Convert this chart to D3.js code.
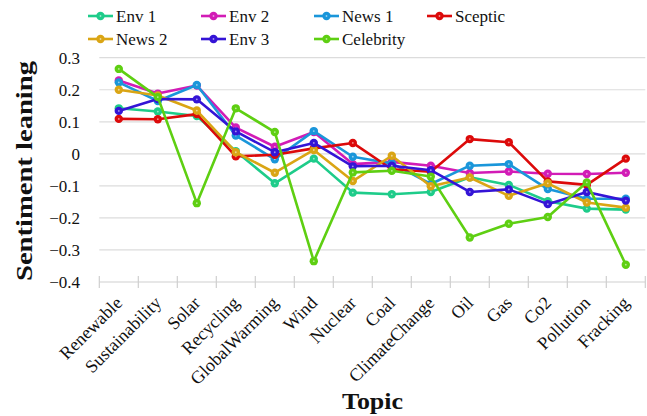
<!DOCTYPE html>
<html>
<head>
<meta charset="utf-8">
<script src="https://cdn.jsdelivr.net/npm/d3@7"></script>
<style>
  html, body { margin: 0; padding: 0; background: #fff; }
  svg { display: block; }
</style>
</head>
<body>
<svg id="chart" width="647" height="416"></svg>
<script>
// Topics along the x axis
const topics = ["Renewable", "Sustainability", "Solar", "Recycling", "GlobalWarming", "Wind",
  "Nuclear", "Coal", "ClimateChange", "Oil", "Gas", "Co2", "Pollution", "Fracking"];

// Mean sentiment leaning per topic, one array per account group
const env1      = [0.142, 0.132, 0.118, 0.008, -0.092, -0.015, -0.121, -0.126, -0.119, -0.073, -0.097, -0.148, -0.171, -0.174];
const env2      = [0.229, 0.188, 0.213, 0.082, 0.022, 0.068, -0.032, -0.025, -0.037, -0.060, -0.055, -0.062, -0.063, -0.059];
const news1     = [0.223, 0.165, 0.215, 0.057, -0.017, 0.071, -0.009, -0.030, -0.094, -0.037, -0.032, -0.110, -0.140, -0.140];
const sceptic   = [0.109, 0.108, 0.124, -0.008, -0.003, 0.017, 0.034, -0.048, -0.056, 0.046, 0.036, -0.086, -0.097, -0.015];
const news2     = [0.200, 0.182, 0.135, 0.005, -0.059, 0.012, -0.085, -0.006, -0.101, -0.074, -0.131, -0.092, -0.152, -0.168];
const env3      = [0.134, 0.171, 0.170, 0.070, 0.005, 0.034, -0.039, -0.037, -0.051, -0.119, -0.111, -0.157, -0.119, -0.146];
const celebrity = [0.265, 0.177, -0.154, 0.142, 0.068, -0.335, -0.058, -0.053, -0.071, -0.261, -0.218, -0.197, -0.089, -0.346];

const seriesNames  = ["Env 1", "Env 2", "News 1", "Sceptic", "News 2", "Env 3", "Celebrity"];
const seriesValues = [env1, env2, news1, sceptic, news2, env3, celebrity];
const seriesColors = ["#1ecc8a", "#d21cb6", "#1a96da", "#dc0a0a", "#daa514", "#3414d6", "#5ecf12"];

const yTicks = [-0.4, -0.3, -0.2, -0.1, 0, 0.1, 0.2, 0.3];

const SERIF = "'Liberation Serif', 'Times New Roman', Times, serif";

const svg = d3.select("#chart");

const x = d3.scaleBand().domain(topics).range([99.3, 645.3]).padding(0);
const y = d3.scaleLinear().domain([-0.4, 0.3]).range([282, 57.7]);
const cx = d => x(d) + x.bandwidth() / 2;

// Horizontal grid
svg.append("g")
  .selectAll("line")
  .data(yTicks.filter(t => t > -0.4))
  .join("line")
  .attr("x1", x.range()[0]).attr("x2", x.range()[1])
  .attr("y1", d => y(d)).attr("y2", d => y(d))
  .attr("stroke", "#dcdcdc").attr("stroke-width", 1.2);

// Bottom axis: band boundaries as ticks, labels rotated
const xAxis = svg.append("g").attr("transform", `translate(0,${y(-0.4)})`);
xAxis.append("line")
  .attr("x1", x.range()[0]).attr("x2", x.range()[1])
  .attr("stroke", "#cfcfcf").attr("stroke-width", 1.2);
const bounds = d3.range(topics.length + 1).map(i => x.range()[0] + i * x.bandwidth());
xAxis.selectAll("line.tick")
  .data(bounds)
  .join("line")
  .attr("class", "tick")
  .attr("x1", d => d).attr("x2", d => d)
  .attr("y1", -6).attr("y2", 6)
  .attr("stroke", "#cfcfcf").attr("stroke-width", 1.2);
xAxis.selectAll("text")
  .data(topics)
  .join("text")
  .attr("text-anchor", "end")
  .style("font-family", SERIF)
  .style("font-size", "18px")
  .attr("fill", "#111")
  .attr("transform", d => `translate(${cx(d) + 4.5},${22}) rotate(-45)`)
  .text(d => d);

// Left axis labels (no axis line)
const yAxis = d3.axisLeft(y).tickValues(yTicks)
  .tickFormat(d => d === 0 ? "0" : d3.format(".1f")(d))
  .tickSize(0).tickPadding(0);
const yg = svg.append("g").attr("transform", "translate(80,0)").call(yAxis);
yg.select(".domain").remove();
yg.selectAll("text")
  .style("font-family", SERIF)
  .style("font-size", "17px")
  .attr("fill", "#111");

// Axis titles
svg.append("text")
  .attr("x", 372.5).attr("y", 409)
  .attr("text-anchor", "middle")
  .style("font-family", SERIF)
  .style("font-size", "24px").style("font-weight", "bold")
  .attr("fill", "#111")
  .attr("textLength", 61).attr("lengthAdjust", "spacingAndGlyphs")
  .text("Topic");
svg.append("text")
  .attr("transform", "translate(32,171) rotate(-90)")
  .attr("text-anchor", "middle")
  .style("font-family", SERIF)
  .style("font-size", "24px").style("font-weight", "bold")
  .attr("fill", "#111")
  .attr("textLength", 220).attr("lengthAdjust", "spacingAndGlyphs")
  .text("Sentiment leaning");

// Series lines and markers
const line = d3.line().x((d, i) => cx(topics[i])).y(d => y(d));
seriesValues.forEach((vals, k) => {
  const g = svg.append("g");
  g.append("path")
    .datum(vals)
    .attr("d", line)
    .attr("fill", "none")
    .attr("stroke", seriesColors[k])
    .attr("stroke-width", 2.6)
    .attr("stroke-linejoin", "round");
  g.selectAll("circle.m")
    .data(vals)
    .join("circle")
    .attr("class", "m")
    .attr("cx", (d, i) => cx(topics[i]))
    .attr("cy", d => y(d))
    .attr("r", 4.2)
    .attr("fill", seriesColors[k]);
  g.selectAll("circle.c")
    .data(vals)
    .join("circle")
    .attr("class", "c")
    .attr("cx", (d, i) => cx(topics[i]))
    .attr("cy", d => y(d))
    .attr("r", 0.9)
    .attr("fill", "#fff").attr("fill-opacity", 0.55);
});

// Legend, four entries per row
const legend = svg.append("g");
seriesNames.forEach((name, k) => {
  const col = k % 4, row = Math.floor(k / 4);
  const lx = 88 + col * 113, ly = 16 + row * 23;
  const e = legend.append("g").attr("transform", `translate(${lx},${ly})`);
  e.append("line").attr("x1", 0).attr("x2", 25).attr("y1", 0).attr("y2", 0)
    .attr("stroke", seriesColors[k]).attr("stroke-width", 2.6);
  e.append("circle").attr("cx", 12.5).attr("cy", 0).attr("r", 4.2).attr("fill", seriesColors[k]);
  e.append("circle").attr("cx", 12.5).attr("cy", 0).attr("r", 0.9).attr("fill", "#fff").attr("fill-opacity", 0.55);
  e.append("text").attr("x", 28).attr("y", 6)
    .style("font-family", SERIF).style("font-size", "17px")
    .attr("fill", "#111")
    .text(name);
});
</script>
</body>
</html>
